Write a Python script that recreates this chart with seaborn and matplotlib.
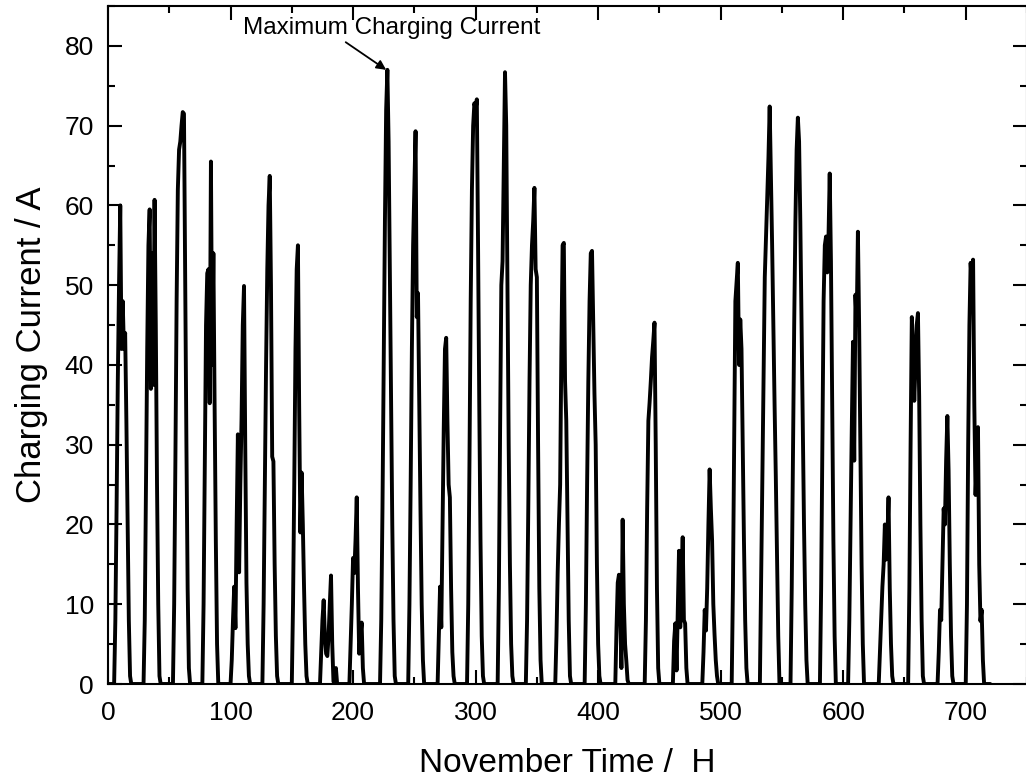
import matplotlib

matplotlib.use("Agg")
import matplotlib.pyplot as plt
import numpy as np
import pandas as pd
import seaborn as sns
from matplotlib.ticker import MultipleLocator

# hour at which each day's charging window opens (value 0 there) and the hourly currents that follow
day_start = [5, 29, 53, 77, 100, 126, 150, 173, 197, 222,
             245, 269, 293, 318, 341, 365, 389, 414, 438, 461,
             485, 509, 532, 557, 581, 604, 629, 653, 677, 700]
day_current = [
    [0, 8, 22, 38, 50, 60, 42, 48, 42, 44, 33, 20, 8, 1, 0],
    [0, 8, 25, 42, 55, 59.5, 37, 54, 37.5, 60.7, 45, 25, 10, 1, 0],
    [0, 10, 28, 48, 62, 67, 68, 70, 71.7, 71.5, 50, 30, 12, 2, 0],
    [0, 10, 28, 45, 51.5, 52, 35.2, 65.5, 40, 54, 35, 18, 5, 0],
    [0, 3, 8, 12.2, 7, 20, 31.3, 14, 25, 33.3, 45, 49.9, 30, 12.7, 5, 1, 0],
    [0, 10, 25, 40, 52, 60, 63.7, 50, 28.5, 27.9, 15, 6, 1, 0],
    [0, 10, 25, 42, 52, 55, 35, 19, 26.5, 20, 12, 5, 1, 0],
    [0, 4, 8, 10.5, 6, 3.8, 3.5, 6, 10, 13.6, 5, 0.3, 0.5, 2, 0],
    [0, 5, 10, 15.8, 13.9, 18, 23.4, 12, 3.8, 6, 7.7, 2, 0],
    [0, 8, 22, 40, 58, 72, 77, 68, 52, 35, 20, 8, 1, 0],
    [0, 10, 25, 42, 55, 62, 69.3, 46, 49, 35, 22, 10, 3, 0],
    [0, 6, 12.2, 7.1, 20, 32, 42, 43.4, 33, 25, 23.4, 12, 4, 1, 0],
    [0, 10, 28, 48, 62, 70, 72.8, 72, 73.3, 55, 35, 18, 6, 1, 0],
    [0, 12, 32, 50, 53, 65, 76.7, 70, 50, 30, 15, 5, 1, 0],
    [0, 8, 22, 38, 50, 55, 58, 62.2, 52, 51, 30, 12, 3, 0],
    [0, 6, 14, 20, 25, 42, 55, 55.3, 38, 33, 20, 8, 1, 0],
    [0, 10, 25, 38, 48, 54, 54.3, 45, 36.4, 30, 15, 5, 1, 0],
    [0, 7, 12.7, 13.7, 9, 2, 20.6, 10, 5, 2.9, 0.5, 0],
    [0, 8, 22, 33, 35.3, 38, 41, 43, 45.3, 30, 12, 2, 0],
    [0, 5.4, 7.6, 1.7, 9, 16.7, 7.1, 12, 18.4, 8, 7.6, 2, 0],
    [0, 4, 9.3, 6.7, 12, 20, 26.9, 22, 18, 10, 6.2, 3, 1, 0],
    [0, 12, 30, 48, 50.5, 52.8, 40, 45.7, 42, 30.2, 18, 8, 2, 0],
    [0, 13, 26, 39, 51, 56, 61, 66, 72.4, 64, 55, 45, 35, 26, 16, 6, 0],
    [0, 12, 28, 45, 58, 67, 71, 68, 58, 45, 32, 20, 10, 3, 0],
    [0, 12, 30, 48, 55, 56.1, 51.6, 56, 64, 53, 35, 18, 6, 0],
    [0, 8, 20, 32, 42.9, 28, 48.8, 45, 56.7, 45, 30, 15, 5, 0],
    [0, 4, 8, 12.2, 15, 20, 15.6, 18, 23.4, 12, 5, 1, 0],
    [0, 12, 30, 46, 42, 35.5, 40, 45, 46.5, 36, 20, 8, 1, 0],
    [0, 4, 9.3, 8, 15, 22, 20, 28, 33.6, 26.8, 15, 6, 1, 0],
    [0, 10, 30, 45, 52.8, 50, 53.2, 35, 23.7, 28, 32.2, 15, 7.9, 9.3, 3, 0],
]
n_hours = 720
x_ticks = list(range(0, 701, 100))
y_ticks = list(range(0, 81, 10))
peak_hour, peak_current = 227, 77
note_text = "Maximum Charging Current"


def build_frame() -> pd.DataFrame:
    current = np.zeros(n_hours + 1)
    for start, values in zip(day_start, day_current):
        current[start:start + len(values)] = values
    return pd.DataFrame({"hour": np.arange(n_hours + 1), "current": current})


sns.set_theme(style="ticks")
plt.rcParams["font.family"] = ["Liberation Sans", "DejaVu Sans"]
plt.rcParams["text.color"] = "black"
plt.rcParams["axes.labelcolor"] = "black"

df = build_frame()
fig = plt.figure(figsize=(10.26, 7.78), dpi=100)
ax = fig.add_axes([108 / 1026, 1 - 684 / 778, 919 / 1026, 678 / 778])

sns.lineplot(data=df, x="hour", y="current", color="black", linewidth=2.8,
             estimator=None, ax=ax)

ax.set_xlim(0, 750)
ax.set_ylim(0, 85)
ax.set_xticks(x_ticks)
ax.set_yticks(y_ticks)
ax.xaxis.set_minor_locator(MultipleLocator(50))
ax.yaxis.set_minor_locator(MultipleLocator(5))
ax.tick_params(which="both", direction="in", top=True, right=True, width=1.5, colors="black")
ax.tick_params(which="major", length=10, labelsize=19)
ax.tick_params(which="minor", length=5)
ax.tick_params(axis="x", which="major", pad=12)
ax.tick_params(axis="y", which="major", pad=10)
for spine in ax.spines.values():
    spine.set_linewidth(1.5)
    spine.set_color("black")

ax.set_xlabel("November Time /  H", fontsize=24, labelpad=17, color="black")
ax.set_ylabel("Charging Current / A", fontsize=25, labelpad=12, color="black")

ax.annotate(note_text, xy=(peak_hour, peak_current), xytext=(110, 81.5),
            ha="left", va="baseline", fontsize=17.5, color="black",
            arrowprops=dict(arrowstyle="-|>", color="black", lw=1.3,
                            shrinkA=0, shrinkB=0, mutation_scale=14,
                            relpos=(0.33, 0.0)))

fig.savefig("out.png", dpi=100)
plt.close(fig)
